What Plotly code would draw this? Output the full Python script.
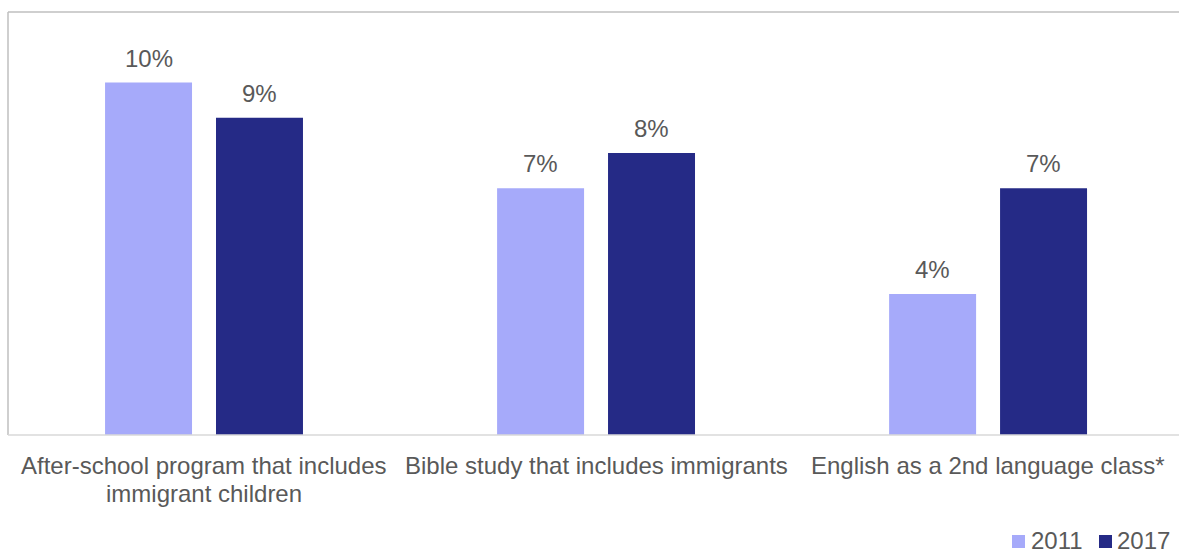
import plotly.graph_objects as go

categories = [
    "After-school program that includes<br>immigrant children",
    "Bible study that includes immigrants",
    "English as a 2nd language class*",
]
series_names = ["2011", "2017"]
values_2011 = [10, 7, 4]
values_2017 = [9, 8, 7]

colors = {"2011": "#A6AAFA", "2017": "#252A86"}
text_color = "#595959"
font_family = "Liberation Sans, Arial, sans-serif"
font_size = 24

W, H = 1179, 553
M_L, M_R, M_T, M_B = 8, 0, 12, 118
plot_w = W - M_L - M_R
plot_h = H - M_T - M_B


def px_to_paper_x(px):
    return (px - M_L) / plot_w


def px_to_paper_y(py):
    return (H - M_B - py) / plot_h


x_pos = list(range(len(categories)))

fig = go.Figure()
for name, vals in zip(series_names, [values_2011, values_2017]):
    fig.add_trace(go.Bar(
        x=x_pos,
        y=vals,
        name=name,
        offsetgroup=name,
        marker=dict(color=colors[name], line=dict(width=0)),
        showlegend=False,
    ))

fig.update_layout(
    width=W,
    height=H,
    margin=dict(l=M_L, r=M_R, t=M_T, b=M_B, autoexpand=False),
    paper_bgcolor="white",
    plot_bgcolor="white",
    barmode="group",
    bargap=0.434,
    bargroupgap=0.216,
    font=dict(family=font_family, color=text_color, size=font_size),
    showlegend=False,
    xaxis=dict(
        range=[-0.5, 2.487],
        showgrid=False,
        zeroline=False,
        showline=False,
        showticklabels=False,
        ticks="",
        automargin=False,
    ),
    yaxis=dict(
        range=[0, 12],
        showgrid=False,
        zeroline=False,
        showline=False,
        showticklabels=False,
        ticks="",
        automargin=False,
    ),
)

# category labels under the baseline, one annotation per line for tight spacing
line_step = 28
for x, label in zip(x_pos, categories):
    for k, line in enumerate(label.split("<br>")):
        fig.add_annotation(
            x=x, y=px_to_paper_y(465 + k * line_step), xref="x", yref="paper",
            text=line, showarrow=False, xanchor="center", yanchor="middle",
            borderpad=0,
            font=dict(size=font_size, color=text_color, family=font_family),
        )

# value labels above each bar, placed over the centre of its group slot
group_w = 1 - 0.434
slot = group_w / len(series_names)
for i, (name, vals) in enumerate(zip(series_names, [values_2011, values_2017])):
    offset = -group_w / 2 + slot * (i + 0.5)
    for x, v in zip(x_pos, vals):
        fig.add_annotation(
            x=x + offset, y=v, xref="x", yref="y",
            text=f"{v}%", showarrow=False,
            yanchor="bottom", yshift=9,
            font=dict(size=font_size, color=text_color, family=font_family),
        )

# legend: colour swatch followed by the series name
legend_items = [(1012, 1030), (1099, 1116)]
for (sx, tx), name in zip(legend_items, series_names):
    fig.add_shape(
        type="rect", xref="paper", yref="paper",
        x0=px_to_paper_x(sx), x1=px_to_paper_x(sx + 13),
        y0=px_to_paper_y(548), y1=px_to_paper_y(535),
        fillcolor=colors[name], line=dict(width=0),
    )
    fig.add_annotation(
        x=px_to_paper_x(tx), y=px_to_paper_y(540), xref="paper", yref="paper",
        text=name, showarrow=False, xanchor="left", yanchor="middle",
        borderpad=0,
        font=dict(size=font_size, color=text_color, family=font_family),
    )

# frame: left and top edges, plus the baseline
fig.add_shape(type="line", xref="paper", yref="paper", x0=0, x1=0, y0=0, y1=1,
              line=dict(color="#BFBFBF", width=1.5))
fig.add_shape(type="line", xref="paper", yref="paper", x0=0, x1=1, y0=1, y1=1,
              line=dict(color="#BFBFBF", width=1.5))
fig.add_shape(type="line", xref="paper", yref="paper", x0=0, x1=1, y0=0, y1=0,
              line=dict(color="#D9D9D9", width=1.5))

fig.write_html("out.html")
